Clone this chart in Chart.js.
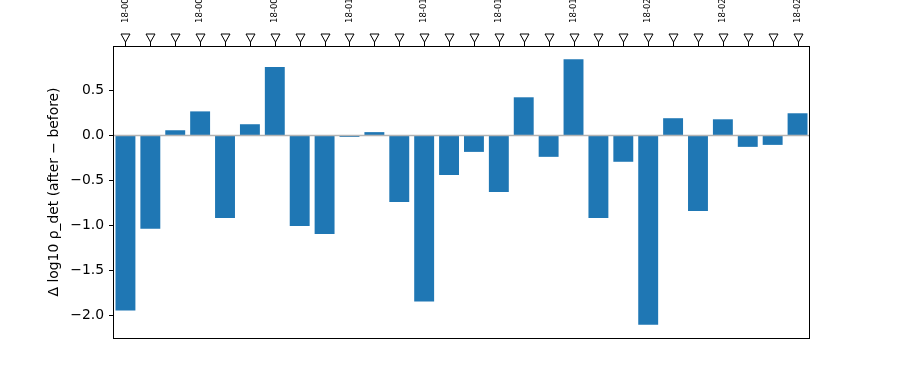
<!DOCTYPE html>
<html>
<head>
<meta charset="utf-8">
<script src="https://cdn.jsdelivr.net/npm/chart.js@4"></script>
<style>
html,body{margin:0;padding:0;background:#fff;}
#wrap{width:900px;height:380px;}
</style>
</head>
<body>
<div id="wrap"><canvas id="c" width="900" height="380"></canvas></div>
<script>
// ---- data ----
const categories = ["0","1","2","3","4","5","6","7","8","9","10","11","12","13","14","15","16","17","18","19","20","21","22","23","24","25","26","27"];
const deltaValues = [-1.95, -1.04, 0.058, 0.268, -0.918, 0.125, 0.762, -1.007, -1.096, -0.016, 0.037, -0.74, -1.85, -0.44, -0.183, -0.63, 0.425, -0.238, 0.848, -0.918, -0.293, -2.107, 0.192, -0.84, 0.18, -0.127, -0.105, 0.247];
const topLabelIndex = [0, 3, 6, 9, 12, 15, 18, 21, 24, 27];
const topLabels = ["18-00", "18-00", "18-00", "18-01", "18-01", "18-01", "18-01", "18-02", "18-02", "18-02"];
const yTickValues = [-2.0, -1.5, -1.0, -0.5, 0.0, 0.5];
const yTitle = "Δ log10 ρ_det (after − before)";

const FONT = "'DejaVu Sans', sans-serif";

const decorPlugin = {
  id: 'decor',
  afterDatasetsDraw(chart) {
    const ctx = chart.ctx, a = chart.chartArea;
    const y = chart.scales.y;
    const y0 = y.getPixelForValue(0);
    ctx.save();
    ctx.strokeStyle = '#b3b3b3';
    ctx.lineWidth = 1.5;
    ctx.beginPath();
    ctx.moveTo(a.left, y0);
    ctx.lineTo(a.right, y0);
    ctx.stroke();
    ctx.restore();
  },
  afterDraw(chart) {
    const ctx = chart.ctx, a = chart.chartArea;
    const x = chart.scales.x;
    ctx.save();
    ctx.strokeStyle = '#000';
    ctx.lineWidth = 1;
    ctx.strokeRect(Math.round(a.left) + 0.5, Math.round(a.top) + 0.5, Math.round(a.right - a.left) - 1, Math.round(a.bottom - a.top));
    categories.forEach((c, i) => {
      const px = Math.round(x.getPixelForValue(i)) + 0.5;
      ctx.strokeStyle = '#000';
      ctx.lineWidth = 1;
      ctx.beginPath();
      ctx.moveTo(px, a.top);
      ctx.lineTo(px, a.top - 4);
      ctx.stroke();
      ctx.fillStyle = '#fff';
      ctx.beginPath();
      ctx.moveTo(px - 4.5, a.top - 12);
      ctx.lineTo(px + 4.5, a.top - 12);
      ctx.lineTo(px, a.top - 4);
      ctx.closePath();
      ctx.fill();
      ctx.stroke();
    });
    ctx.fillStyle = '#000';
    ctx.font = "8.5px " + FONT;
    ctx.textAlign = 'left';
    ctx.textBaseline = 'middle';
    topLabelIndex.forEach((idx, k) => {
      const px = x.getPixelForValue(idx);
      ctx.save();
      ctx.translate(px, a.top - 23);
      ctx.rotate(-Math.PI / 2);
      ctx.fillText(topLabels[k], 0, 0);
      ctx.restore();
    });
    ctx.restore();
  }
};

new Chart(document.getElementById('c'), {
  type: 'bar',
  data: {
    labels: categories,
    datasets: [{
      data: deltaValues,
      backgroundColor: '#1f77b4',
      borderWidth: 0,
      barPercentage: 0.8,
      categoryPercentage: 1.0
    }]
  },
  options: {
    responsive: false,
    animation: false,
    devicePixelRatio: 1,
    layout: { padding: { left: 40, top: 46, right: 90, bottom: 42 } },
    plugins: { legend: { display: false }, tooltip: { enabled: false } },
    scales: {
      x: {
        type: 'category',
        display: false,
        offset: true
      },
      y: {
        min: -2.255,
        max: 0.996,
        afterFit(scale) { scale.width = 73; },
        afterBuildTicks(scale) { scale.ticks = yTickValues.map(v => ({ value: v })); },
        grid: { display: true, drawOnChartArea: false, drawTicks: true, tickLength: 4, color: '#000', tickColor: '#000', tickWidth: 1 },
        border: { display: false },
        ticks: {
          padding: 5,
          color: '#000',
          font: { family: FONT, size: 13.9 },
          callback: (v) => Number(v).toFixed(1).replace('-', '\u2212')
        },
        title: {
          display: true,
          text: yTitle,
          color: '#000',
          font: { family: FONT, size: 13.9 },
          padding: { top: 6, bottom: 0 }
        }
      }
    }
  },
  plugins: [decorPlugin]
});
</script>
</body>
</html>
